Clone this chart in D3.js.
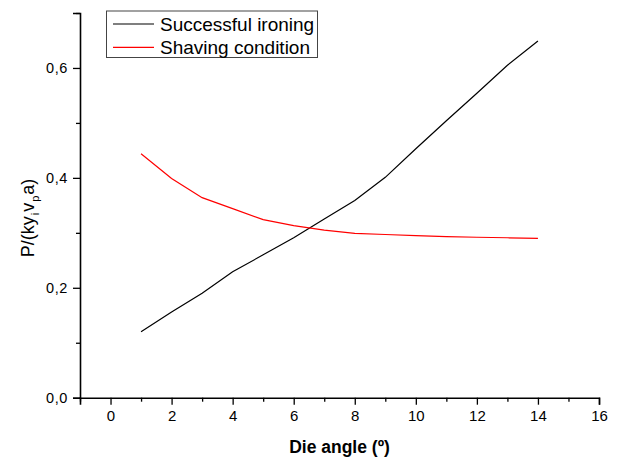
<!DOCTYPE html>
<html>
<head>
<meta charset="utf-8">
<script src="https://cdn.jsdelivr.net/npm/d3@7"></script>
<style>
  html, body { margin: 0; padding: 0; background: #fff; }
  svg text { font-family: "Liberation Sans", Arial, sans-serif; fill: #000; }
</style>
</head>
<body>
<svg id="chart" width="623" height="457"></svg>
<script>
// Data
const dieAngle = [1, 2, 3, 4, 5, 6, 7, 8, 9, 10, 11, 12, 13, 14];
const successfulIroning = [0.120, 0.156, 0.190, 0.229, 0.260, 0.291, 0.325, 0.359, 0.401, 0.453, 0.504, 0.554, 0.605, 0.649];
const shavingCondition = [0.444, 0.399, 0.364, 0.344, 0.324, 0.313, 0.305, 0.299, 0.297, 0.295, 0.293, 0.292, 0.291, 0.290];
const xTicks = [0, 2, 4, 6, 8, 10, 12, 14, 16];
const xMinorTicks = [-1, 1, 3, 5, 7, 9, 11, 13, 15];
const yTicks = [0.0, 0.2, 0.4, 0.6];
const yMinorTicks = [0.1, 0.3, 0.5, 0.7];
const seriesNames = ["Successful ironing", "Shaving condition"];
const seriesColors = ["#000000", "#ff0000"];

const svg = d3.select("#chart");
const x = d3.scaleLinear().domain([-1, 16]).range([80, 599]);
const y = d3.scaleLinear().domain([0, 0.7]).range([397.7, 13]);

const fmt = d => d3.format(".1f")(d).replace(".", ",");

// X axis
const gx = svg.append("g").attr("transform", `translate(0,${y(0)})`);
gx.append("g").call(d3.axisBottom(x).tickValues(xMinorTicks).tickSize(4).tickFormat(""))
  .call(g => g.select(".domain").remove())
  .call(g => g.selectAll("line").attr("stroke", "#000").attr("stroke-width", 1.3));
gx.append("g").call(d3.axisBottom(x).tickValues(xTicks).tickSize(7).tickPadding(6).tickFormat(d3.format("d")))
  .call(g => g.select(".domain").attr("stroke", "#000").attr("stroke-width", 1.6))
  .call(g => g.selectAll("line").attr("stroke", "#000").attr("stroke-width", 1.3))
  .call(g => g.selectAll("text").attr("font-size", 15).attr("font-family", "Liberation Sans, Arial, sans-serif").attr("fill", "#000"));

// Y axis
const gy = svg.append("g").attr("transform", `translate(${x(-1)},0)`);
gy.append("g").call(d3.axisLeft(y).tickValues(yMinorTicks).tickSize(4).tickFormat(""))
  .call(g => g.select(".domain").remove())
  .call(g => g.selectAll("line").attr("stroke", "#000").attr("stroke-width", 1.3));
gy.append("g").call(d3.axisLeft(y).tickValues(yTicks).tickSize(7).tickPadding(5).tickFormat(fmt))
  .call(g => g.select(".domain").attr("stroke", "#000").attr("stroke-width", 1.6))
  .call(g => g.selectAll("line").attr("stroke", "#000").attr("stroke-width", 1.3))
  .call(g => g.selectAll("text").attr("font-size", 14.5).attr("letter-spacing", "0.6px")
    .attr("font-family", "Liberation Sans, Arial, sans-serif").attr("fill", "#000"));

// Lines
const line = d3.line().x(d => x(d[0])).y(d => y(d[1]));
[successfulIroning, shavingCondition].forEach((vals, i) => {
  svg.append("path")
    .datum(dieAngle.map((a, j) => [a, vals[j]]))
    .attr("fill", "none")
    .attr("stroke", seriesColors[i])
    .attr("stroke-width", 1.2)
    .attr("d", line);
});

// Axis titles
svg.append("text")
  .attr("x", (x(-1) + x(16)) / 2)
  .attr("y", 452.5)
  .attr("text-anchor", "middle")
  .attr("font-size", 17.5)
  .attr("font-weight", "bold")
  .text("Die angle (º)");

const yt = svg.append("text")
  .attr("transform", "translate(34,218) rotate(-90)")
  .attr("text-anchor", "middle")
  .attr("font-size", 18);
yt.append("tspan").text("P/(ky");
yt.append("tspan").attr("font-size", 11).attr("dy", 5).attr("dx", 1).text("i");
yt.append("tspan").attr("dy", -5).attr("dx", 1).text("v");
yt.append("tspan").attr("font-size", 11).attr("dy", 5).attr("dx", 1).text("p");
yt.append("tspan").attr("dy", -5).attr("dx", 1).text("a)");

// Legend
const lg = svg.append("g");
lg.append("rect").attr("x", 106.5).attr("y", 11).attr("width", 211).attr("height", 46.5)
  .attr("fill", "#fff").attr("stroke", "#444").attr("stroke-width", 1);
seriesNames.forEach((name, i) => {
  const yy = 24 + i * 23.3;
  lg.append("line").attr("x1", 113).attr("x2", 154).attr("y1", yy).attr("y2", yy)
    .attr("stroke", seriesColors[i]).attr("stroke-width", 1.2);
  lg.append("text").attr("x", 160).attr("y", yy + 7).attr("font-size", 19).text(name);
});
</script>
</body>
</html>
